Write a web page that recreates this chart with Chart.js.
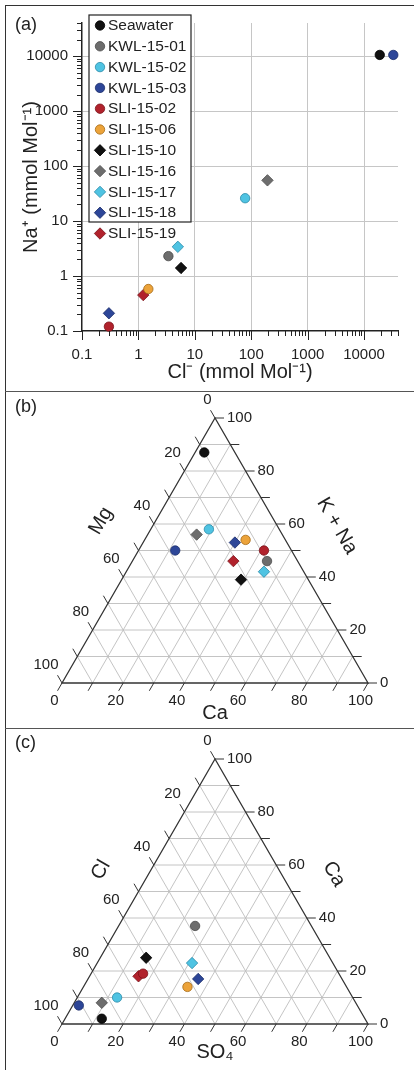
<!DOCTYPE html>
<html>
<head>
<meta charset="utf-8">
<script src="https://cdn.jsdelivr.net/npm/chart.js@4.4.1/dist/chart.umd.min.js"></script>
<style>
  html, body { margin: 0; padding: 0; background: #fff; }
  #fig { position: relative; width: 414px; height: 1070px; overflow: hidden; }
  #fig canvas { position: absolute; left: 0; }
  .frame { position: absolute; left: 5px; top: 5px; width: 430px; height: 1090px;
           border-left: 1.5px solid #333; border-top: 1.5px solid #333; }
  .sep { position: absolute; left: 5px; width: 430px; height: 0; border-top: 1.5px solid #555; }
</style>
</head>
<body>
<div id="fig">
  <canvas id="chart-a" width="414" height="391" style="top:0"></canvas>
  <canvas id="chart-b" width="414" height="337" style="top:392px"></canvas>
  <canvas id="chart-c" width="414" height="342" style="top:728px"></canvas>
  <div class="frame"></div>
  <div class="sep" style="top:391px"></div>
  <div class="sep" style="top:728px"></div>
</div>
<script>
// samples (same order as the legend)
const sampleNames = ['Seawater', 'KWL-15-01', 'KWL-15-02', 'KWL-15-03', 'SLI-15-02', 'SLI-15-06',
                     'SLI-15-10', 'SLI-15-16', 'SLI-15-17', 'SLI-15-18', 'SLI-15-19'];
const sampleShapes = ['circle', 'circle', 'circle', 'circle', 'circle', 'circle',
                      'rectRot', 'rectRot', 'rectRot', 'rectRot', 'rectRot'];
const sampleColors = ['#111111', '#6d6d6d', '#4fc3e2', '#2d4698', '#b1222c', '#eca33a',
                      '#111111', '#6d6d6d', '#4fc3e2', '#2d4698', '#b1222c'];
const sampleEdges  = ['#000000', '#4a4a4a', '#2a8aa8', '#1c2d6a', '#7a1219', '#a66b16',
                      '#000000', '#4a4a4a', '#2a8aa8', '#1c2d6a', '#7a1219'];

// (a) Na+ vs Cl- (mmol/Mol)
const clMmol = [19000, 3.4, 78, 33000, 0.30, 1.5, 5.7, 194, 5.0, 0.30, 1.22];
const naMmol = [10500, 2.3, 26, 10500, 0.12, 0.58, 1.4, 55, 3.4, 0.21, 0.45];
const decadeTicks = [0.1, 1, 10, 100, 1000, 10000];
const decadeLabels = ['0.1', '1', '10', '100', '1000', '10000'];

// (b) cation ternary, percent
const caCation = [3, 44, 19, 12, 41, 33, 39, 16, 45, 30, 33];
const mgCation = [10, 10, 23, 38, 9, 13, 22, 28, 13, 17, 21];
const kNaCation = [87, 46, 58, 50, 50, 54, 39, 56, 42, 53, 46];

// (c) anion ternary, percent
const so4Anion = [12, 25, 13, 2, 17, 34, 15, 9, 31, 36, 16];
const clAnion = [86, 38, 77, 91, 64, 52, 60, 83, 46, 47, 66];
const caAnion = [2, 37, 10, 7, 19, 14, 25, 8, 23, 17, 18];

const ternaryTicks = [0, 20, 40, 60, 80, 100];

const FONT = '"Liberation Sans", Arial, Helvetica, sans-serif';
const INK = '#222';
const SQ3 = Math.sqrt(3) / 2;

function markerRadius(i) {
  return sampleShapes[i] === 'circle' ? 4.7 : 5.7;
}

function makeDatasets(xs, ys) {
  return sampleNames.map((name, i) => ({
    label: name,
    data: [{ x: xs[i], y: ys[i] }],
    pointStyle: sampleShapes[i],
    pointRadius: markerRadius(i),
    pointHoverRadius: markerRadius(i),
    backgroundColor: sampleColors[i],
    borderColor: sampleEdges[i],
    borderWidth: 0.8,
    clip: false
  }));
}

function drawMarker(ctx, i, x, y) {
  const r = markerRadius(i);
  ctx.beginPath();
  if (sampleShapes[i] === 'circle') {
    ctx.arc(x, y, r, 0, Math.PI * 2);
  } else {
    ctx.moveTo(x, y - r); ctx.lineTo(x + r, y); ctx.lineTo(x, y + r); ctx.lineTo(x - r, y);
    ctx.closePath();
  }
  ctx.fillStyle = sampleColors[i];
  ctx.fill();
  ctx.lineWidth = 0.8;
  ctx.strokeStyle = sampleEdges[i];
  ctx.stroke();
}

function panelLabel(text, y) {
  return {
    id: 'panelLabel',
    afterDraw(chart) {
      const ctx = chart.ctx;
      ctx.save();
      ctx.font = '18px ' + FONT;
      ctx.fillStyle = INK;
      ctx.textAlign = 'left';
      ctx.textBaseline = 'middle';
      ctx.fillText(text, 15, y);
      ctx.restore();
    }
  };
}

// ---------- (a) log-log scatter ----------
const logTickMarks = {
  id: 'logTickMarks',
  afterDraw(chart) {
    const { ctx, chartArea: a, scales: { x, y } } = chart;
    ctx.save();
    ctx.strokeStyle = INK;
    ctx.lineWidth = 1;
    ctx.beginPath();
    for (let e = -1; e <= 4; e++) {
      for (let m = 1; m <= 9; m++) {
        const v = m * Math.pow(10, e);
        if (v > 40001) continue;
        const len = m === 1 ? 9 : 5;
        const px = Math.round(x.getPixelForValue(v)) + 0.5;
        ctx.moveTo(px, a.bottom); ctx.lineTo(px, a.bottom + len);
        const py = Math.round(y.getPixelForValue(v)) + 0.5;
        ctx.moveTo(a.left - len, py); ctx.lineTo(a.left, py);
      }
    }
    ctx.stroke();
    ctx.restore();
  }
};

const legendBox = {
  id: 'legendBox',
  afterDraw(chart) {
    const ctx = chart.ctx;
    const left = 89, top = 15, w = 102, h = 207, row = 20.8;
    ctx.save();
    ctx.fillStyle = '#fff';
    ctx.fillRect(left, top, w, h);
    ctx.strokeStyle = INK;
    ctx.lineWidth = 1.2;
    ctx.strokeRect(left, top, w, h);
    ctx.font = '15.5px ' + FONT;
    ctx.textAlign = 'left';
    ctx.textBaseline = 'middle';
    sampleNames.forEach((name, i) => {
      const cy = top + 10.5 + i * row;
      drawMarker(ctx, i, left + 11, cy);
      ctx.fillStyle = INK;
      ctx.fillText(name, left + 19, cy + 0.5);
    });
    ctx.restore();
  }
};

function logAxis(title, tickPad, titlePad, fit) {
  return {
    type: 'logarithmic',
    min: 0.1,
    max: 40000,
    afterBuildTicks: (s) => { s.ticks = decadeTicks.map(v => ({ value: v })); },
    afterFit: fit,
    ticks: {
      autoSkip: false,
      maxRotation: 0,
      padding: tickPad,
      callback: (v, i) => decadeLabels[i],
      font: { family: FONT, size: 15 },
      color: INK
    },
    grid: {
      drawTicks: false,
      color: (c) => (c.index === 0 ? 'rgba(0,0,0,0)' : '#c6c6c6'),
      lineWidth: 1
    },
    border: { display: true, color: INK, width: 1.5 },
    title: { display: true, text: title, padding: titlePad, font: { family: FONT, size: 20 }, color: INK }
  };
}

new Chart(document.getElementById('chart-a'), {
  type: 'scatter',
  data: { datasets: makeDatasets(clMmol, naMmol) },
  options: {
    responsive: false,
    animation: false,
    layout: { padding: { left: 0, right: 16, top: 14, bottom: 0 } },
    plugins: { legend: { display: false }, tooltip: { enabled: false } },
    scales: {
      x: logAxis('Cl\u207B (mmol Mol\u207B\u00B9)', 15, { top: 0, bottom: 7 }, (s) => { s.height = 60; }),
      y: logAxis('Na\u207A (mmol Mol\u207B\u00B9)', 14, { top: 19, bottom: 0 }, (s) => { s.width = 82; })
    }
  },
  plugins: [logTickMarks, legendBox, panelLabel('(a)', 25)]
});

// ---------- (b), (c) ternary diagrams ----------
function ternaryFrame(titles) {
  const L = 9;
  return {
    id: 'ternaryFrame',
    beforeDatasetsDraw(chart) {
      const { ctx, scales: { x, y } } = chart;
      // bottom-axis value b, top-vertex value t (percent)
      const P = (b, t) => [x.getPixelForValue(b + t / 2), y.getPixelForValue(t * SQ3)];
      const seg = (p, q) => { ctx.moveTo(p[0], p[1]); ctx.lineTo(q[0], q[1]); };
      ctx.save();
      // grid
      ctx.strokeStyle = '#bdbdbd';
      ctx.lineWidth = 0.9;
      ctx.beginPath();
      for (let i = 10; i < 100; i += 10) {
        seg(P(0, i), P(100 - i, i));
        seg(P(i, 0), P(i, 100 - i));
        seg(P(100 - i, 0), P(0, 100 - i));
      }
      ctx.stroke();
      // ticks
      ctx.strokeStyle = '#333';
      ctx.lineWidth = 1;
      ctx.beginPath();
      for (let i = 0; i <= 100; i += 10) {
        const pb = P(i, 0);
        seg(pb, [pb[0] - 0.5 * L, pb[1] + SQ3 * L]);
        const pr = P(100 - i, i);
        seg(pr, [pr[0] + L, pr[1]]);
        const pl = P(0, 100 - i);
        seg(pl, [pl[0] - 0.5 * L, pl[1] - SQ3 * L]);
      }
      ctx.stroke();
      // frame
      ctx.strokeStyle = '#333';
      ctx.lineWidth = 1.3;
      ctx.beginPath();
      const A = P(0, 0), B = P(100, 0), C = P(0, 100);
      ctx.moveTo(A[0], A[1]); ctx.lineTo(B[0], B[1]); ctx.lineTo(C[0], C[1]); ctx.closePath();
      ctx.stroke();
      // tick labels
      ctx.fillStyle = INK;
      ctx.font = '15px ' + FONT;
      ctx.textBaseline = 'middle';
      ternaryTicks.forEach((v) => {
        const pb = P(v, 0);
        ctx.textAlign = 'center';
        ctx.fillText(String(v), pb[0] - 0.5 * L - 3, pb[1] + SQ3 * L + 10);
        const pr = P(100 - v, v);
        ctx.textAlign = 'left';
        ctx.fillText(String(v), pr[0] + L + 3, pr[1]);
        const pl = P(0, 100 - v);
        ctx.textAlign = 'right';
        ctx.fillText(String(v), pl[0] - 0.5 * L + 1, pl[1] - SQ3 * L - 10);
      });
      // axis titles
      ctx.font = '20px ' + FONT;
      titles.forEach((t) => {
        ctx.save();
        ctx.translate(t.x, t.y);
        ctx.rotate(t.angle * Math.PI / 180);
        ctx.textAlign = 'center';
        ctx.fillText(t.text, 0, 0);
        ctx.restore();
      });
      ctx.restore();
    }
  };
}

function ternaryChart(id, padTop, padBottom, bottomVals, topVals, titles, label, labelY) {
  const xs = bottomVals.map((b, i) => b + topVals[i] / 2);
  const ys = topVals.map((t) => t * SQ3);
  return new Chart(document.getElementById(id), {
    type: 'scatter',
    data: { datasets: makeDatasets(xs, ys) },
    options: {
      responsive: false,
      animation: false,
      layout: { padding: { left: 62, right: 46, top: padTop, bottom: padBottom } },
      plugins: { legend: { display: false }, tooltip: { enabled: false } },
      scales: {
        x: { type: 'linear', min: 0, max: 100, display: false },
        y: { type: 'linear', min: 0, max: 100 * SQ3, display: false }
      }
    },
    plugins: [ternaryFrame(titles), panelLabel(label, labelY)]
  });
}

ternaryChart('chart-b', 26, 46, caCation, kNaCation, [
  { text: 'Ca', x: 215, y: 321, angle: 0 },
  { text: 'Mg', x: 101, y: 129, angle: -60 },
  { text: 'K + Na', x: 337, y: 134, angle: 60 }
], '(b)', 15);

ternaryChart('chart-c', 31, 46, so4Anion, caAnion, [
  { text: 'SO\u2084', x: 215, y: 324, angle: 0 },
  { text: 'Cl', x: 101, y: 142, angle: -60 },
  { text: 'Ca', x: 334, y: 146, angle: 60 }
], '(c)', 15);
</script>
</body>
</html>
